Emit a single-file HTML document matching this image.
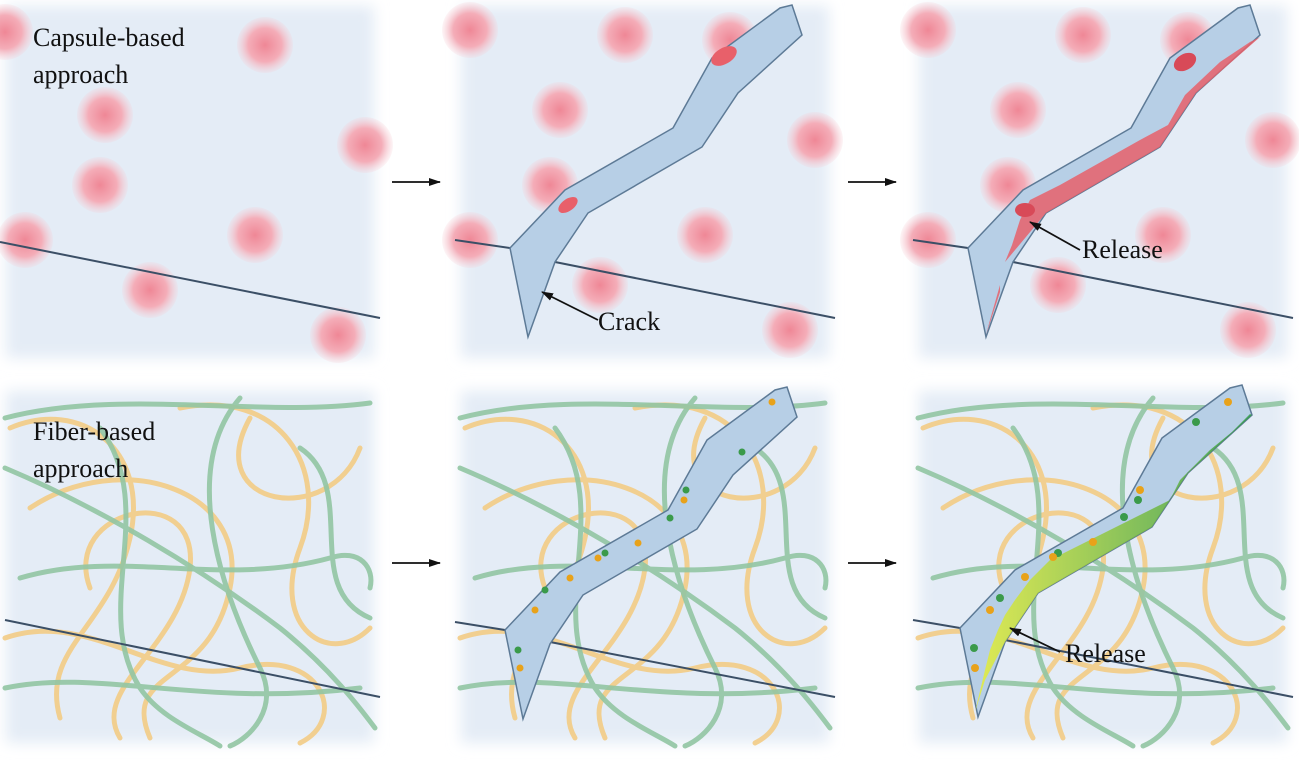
<!DOCTYPE html>
<html><head><meta charset="utf-8"><style>
html,body{margin:0;padding:0;background:#fff;}
svg{display:block;}
text{font-family:"Liberation Serif",serif;fill:#111;}
</style></head><body>
<svg width="1299" height="762" viewBox="0 0 1299 762" xmlns="http://www.w3.org/2000/svg">
<defs>
<filter id="bl" x="-10%" y="-10%" width="120%" height="120%"><feGaussianBlur stdDeviation="7"/></filter>
<radialGradient id="cap"><stop offset="0" stop-color="#ef8796"/><stop offset="0.6" stop-color="#f4adb8"/><stop offset="1" stop-color="#f6cbd3" stop-opacity="0.2"/></radialGradient>
<linearGradient id="gy" x1="0" y1="0" x2="1" y2="0"><stop offset="0" stop-color="#e8ef3a"/><stop offset="1" stop-color="#2f9a48"/></linearGradient>
<marker id="ah2" markerWidth="12" markerHeight="8" refX="11" refY="4" orient="auto" markerUnits="userSpaceOnUse"><path d="M0,0 L12,4 L0,8 z" fill="#111"/></marker>
<g id="bg"><rect x="6" y="6" width="368" height="352" fill="#e4ecf6" filter="url(#bl)"/></g>
<g id="fib" fill="none" stroke-width="5" stroke-linecap="round">
 <g stroke="#f3cc86" opacity="0.9">
  <path d="M10,40 C80,10 150,60 130,150 C110,240 40,260 60,330"/>
  <path d="M30,120 C120,60 250,100 230,200 C210,300 120,280 150,350"/>
  <path d="M180,20 C280,0 330,80 300,160 C270,240 330,280 370,240"/>
  <path d="M5,250 C90,220 160,300 240,280 C320,260 350,330 300,355"/>
  <path d="M250,30 C200,120 330,140 360,60"/>
  <path d="M90,200 C60,120 200,90 190,180 C180,260 90,300 120,350"/>
 </g>
 <g stroke="#92c6a3" opacity="0.9">
  <path d="M5,30 C120,0 260,30 370,15"/>
  <path d="M5,80 C100,120 200,180 280,240 C330,280 360,320 375,340"/>
  <path d="M20,190 C120,160 220,200 330,170 C360,160 375,180 370,200"/>
  <path d="M5,300 C100,280 200,320 360,300"/>
  <path d="M240,10 C180,80 220,200 260,280 C280,320 250,350 230,358"/>
  <path d="M100,40 C160,120 90,220 140,300 C160,330 200,345 220,358"/>
  <path d="M300,60 C360,100 300,200 370,230"/>
 </g>
</g>
<path id="crack" d="M55,248 L73,337 L100,262 L133,213 L247,147 L283,93 L347,35 L337,5 L325,8 L257,58 L218,128 L110,190 Z" fill="#b7cfe6" stroke="#5d7a96" stroke-width="1.5"/>
<g id="caps1">
 <circle cx="5" cy="32" r="28"/><circle cx="265" cy="45" r="28"/><circle cx="105" cy="115" r="28"/><circle cx="365" cy="145" r="28"/><circle cx="100" cy="185" r="28"/><circle cx="25" cy="240" r="28"/><circle cx="255" cy="235" r="28"/><circle cx="150" cy="290" r="28"/><circle cx="338" cy="335" r="28"/>
</g>
<g id="caps2">
 <circle cx="15" cy="30" r="28"/><circle cx="170" cy="35" r="28"/><circle cx="275" cy="40" r="28"/><circle cx="105" cy="110" r="28"/><circle cx="360" cy="140" r="28"/><circle cx="95" cy="185" r="28"/><circle cx="15" cy="240" r="28"/><circle cx="250" cy="235" r="28"/><circle cx="145" cy="285" r="28"/><circle cx="335" cy="330" r="28"/>
</g>
</defs>

<use href="#bg" x="0" y="0"/>
<g fill="url(#cap)"><use href="#caps1"/></g>
<line x1="0" y1="242" x2="380" y2="318" stroke="#3b4f66" stroke-width="2"/>
<text x="33" y="46" font-size="26">Capsule-based</text>
<text x="33" y="83" font-size="26">approach</text>

<use href="#bg" x="455" y="0"/>
<g fill="url(#cap)"><use href="#caps2" x="455"/></g>
<line x1="455" y1="240" x2="510" y2="248" stroke="#3b4f66" stroke-width="2"/>
<line x1="555" y1="262" x2="835" y2="318" stroke="#3b4f66" stroke-width="2"/>
<use href="#crack" x="455"/>
<ellipse cx="724" cy="56" rx="14" ry="8" transform="rotate(-30 724 56)" fill="#e8606a"/>
<ellipse cx="568" cy="205" rx="11" ry="6" transform="rotate(-35 568 205)" fill="#e8606a"/>
<line x1="598" y1="320" x2="542" y2="292" stroke="#111" stroke-width="1.8" marker-end="url(#ah2)"/>
<text x="598" y="330" font-size="26">Crack</text>

<use href="#bg" x="913" y="0"/>
<g fill="url(#cap)"><use href="#caps2" x="913"/></g>
<line x1="913" y1="240" x2="968" y2="248" stroke="#3b4f66" stroke-width="2"/>
<line x1="1013" y1="262" x2="1293" y2="318" stroke="#3b4f66" stroke-width="2"/>
<use href="#crack" x="913"/>
<path d="M1250,42 L1220,62 L1185,95 L1168,125 L1140,140 L1060,185 L1030,200 L1020,220 L1012,245 L1005,262 L1046,213 L1160,147 L1196,93 L1260,37 Z" fill="#e8606a" opacity="0.85"/>
<path d="M1000,285 L990,320 L986,335 L1000,292 Z" fill="#e8606a" opacity="0.85"/>
<ellipse cx="1185" cy="62" rx="12" ry="8" transform="rotate(-30 1185 62)" fill="#d84a58"/>
<ellipse cx="1025" cy="210" rx="10" ry="7" fill="#d84a58"/>
<line x1="1080" y1="250" x2="1030" y2="222" stroke="#111" stroke-width="1.8" marker-end="url(#ah2)"/>
<text x="1082" y="258" font-size="26">Release</text>

<line x1="392" y1="182" x2="440" y2="182" stroke="#111" stroke-width="1.8" marker-end="url(#ah2)"/>
<line x1="848" y1="182" x2="896" y2="182" stroke="#111" stroke-width="1.8" marker-end="url(#ah2)"/>
<line x1="392" y1="563" x2="440" y2="563" stroke="#111" stroke-width="1.8" marker-end="url(#ah2)"/>
<line x1="848" y1="563" x2="896" y2="563" stroke="#111" stroke-width="1.8" marker-end="url(#ah2)"/>

<use href="#bg" x="0" y="385"/>
<use href="#fib" x="0" y="388"/>
<line x1="5" y1="620" x2="380" y2="697" stroke="#3b4f66" stroke-width="2"/>
<text x="33" y="440" font-size="26">Fiber-based</text>
<text x="33" y="477" font-size="26">approach</text>

<use href="#bg" x="455" y="385"/>
<use href="#fib" x="455" y="388"/>
<line x1="455" y1="622" x2="505" y2="630" stroke="#3b4f66" stroke-width="2"/>
<line x1="550" y1="642" x2="835" y2="697" stroke="#3b4f66" stroke-width="2"/>
<use href="#crack" x="450" y="382"/>
<g>
<circle cx="772" cy="402" r="3.5" fill="#e8a21a"/><circle cx="742" cy="452" r="3.5" fill="#3a9a4a"/>
<circle cx="686" cy="490" r="3.5" fill="#3a9a4a"/><circle cx="684" cy="500" r="3.5" fill="#e8a21a"/>
<circle cx="670" cy="518" r="3.5" fill="#3a9a4a"/><circle cx="638" cy="543" r="3.5" fill="#e8a21a"/>
<circle cx="605" cy="553" r="3.5" fill="#3a9a4a"/><circle cx="598" cy="558" r="3.5" fill="#e8a21a"/>
<circle cx="570" cy="578" r="3.5" fill="#e8a21a"/><circle cx="545" cy="590" r="3.5" fill="#3a9a4a"/>
<circle cx="535" cy="610" r="3.5" fill="#e8a21a"/><circle cx="518" cy="650" r="3.5" fill="#3a9a4a"/>
<circle cx="520" cy="668" r="3.5" fill="#e8a21a"/>
</g>

<use href="#bg" x="913" y="385"/>
<use href="#fib" x="913" y="388"/>
<line x1="913" y1="620" x2="960" y2="628" stroke="#3b4f66" stroke-width="2"/>
<line x1="1005" y1="640" x2="1293" y2="697" stroke="#3b4f66" stroke-width="2"/>
<use href="#crack" x="905" y="380"/>
<path d="M1250,414 L1232,432 L1210,450 L1180,480 L1170,500 L1140,515 L1090,540 L1050,560 L1030,580 L1015,600 L1005,615 L998,630 L990,650 L985,670 L975,712 L985,680 L1005,642 L1038,593 L1152,527 L1188,473 L1252,415 Z" fill="url(#gy)" opacity="0.85"/>
<g>
<circle cx="1228" cy="402" r="4" fill="#e8a21a"/><circle cx="1196" cy="422" r="4" fill="#3a9a4a"/>
<circle cx="1140" cy="490" r="4" fill="#e8a21a"/><circle cx="1138" cy="500" r="4" fill="#3a9a4a"/>
<circle cx="1124" cy="517" r="4" fill="#3a9a4a"/><circle cx="1093" cy="542" r="4" fill="#e8a21a"/>
<circle cx="1058" cy="553" r="4" fill="#3a9a4a"/><circle cx="1053" cy="557" r="4" fill="#e8a21a"/>
<circle cx="1025" cy="577" r="4" fill="#e8a21a"/><circle cx="1000" cy="598" r="4" fill="#3a9a4a"/>
<circle cx="990" cy="610" r="4" fill="#e8a21a"/><circle cx="974" cy="648" r="4" fill="#3a9a4a"/>
<circle cx="975" cy="668" r="4" fill="#e8a21a"/>
</g>
<line x1="1060" y1="652" x2="1010" y2="628" stroke="#111" stroke-width="1.8" marker-end="url(#ah2)"/>
<text x="1065" y="662" font-size="26">Release</text>
</svg>
</body></html>
